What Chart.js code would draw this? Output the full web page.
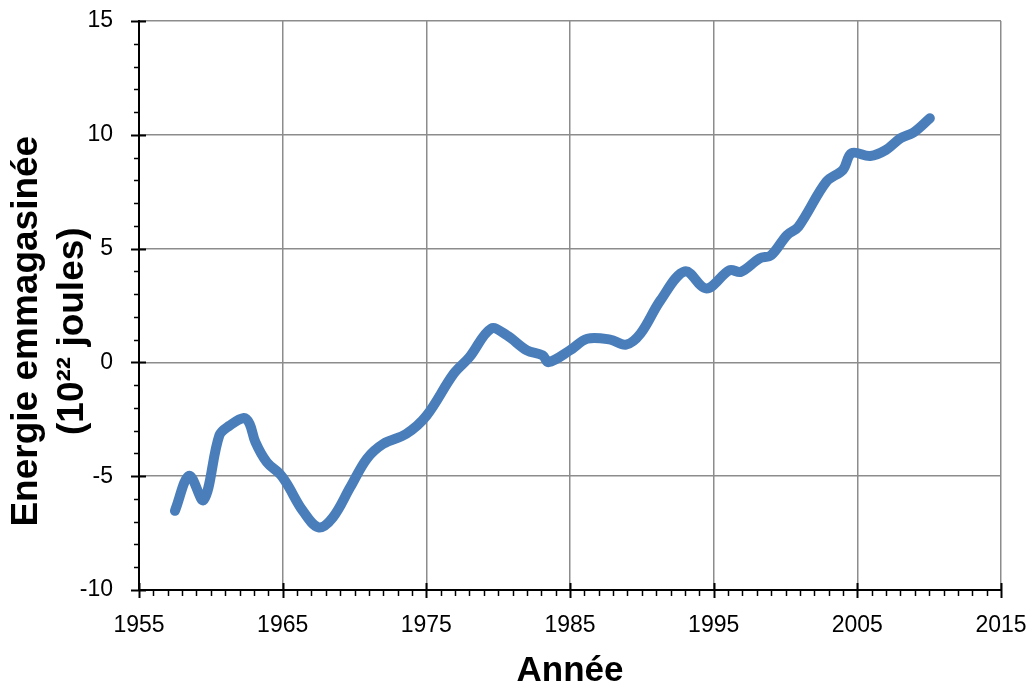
<!DOCTYPE html>
<html><head><meta charset="utf-8">
<script src="https://cdn.jsdelivr.net/npm/chart.js@4"></script>
<style>html,body{margin:0;padding:0;background:#fff}</style>
</head><body>
<canvas id="c" width="1029" height="684"></canvas>
<script>
const years = [1957.5,1958.5,1959.5,1960.6,1961.3,1962.3,1962.7,1963.1,1963.9,1964.8,1965.3,1966.4,1967.5,1968.5,1969.7,1970.85,1972.0,1973.6,1975.0,1976.9,1978.0,1979.5,1980.6,1982.0,1983.1,1983.5,1985.0,1986.2,1987.8,1988.9,1989.9,1991.3,1993.0,1994.5,1996.1,1996.9,1998.2,1999.0,2000.1,2000.9,2002.85,2004.0,2004.6,2005.9,2007.0,2008.0,2008.9,2010.05];
const energy = [-6.52,-4.98,-6.05,-3.2,-2.78,-2.44,-2.7,-3.5,-4.39,-4.9,-5.34,-6.52,-7.25,-6.81,-5.49,-4.24,-3.58,-3.14,-2.35,-0.5,0.23,1.48,1.19,0.53,0.31,0.01,0.53,1.04,1.0,0.78,1.26,2.73,4.0,3.25,4.05,3.98,4.57,4.71,5.59,5.96,7.94,8.46,9.19,9.07,9.34,9.85,10.1,10.73];
const xTickLabels = [1955,1965,1975,1985,1995,2005,2015];
const yTickLabels = [-10,-5,0,5,10,15];
const xTitle = 'Année';
const yTitle = ['Energie emmagasinée     ', '(10²² joules)     '];

const points = years.map((y,i)=>({x:y,y:energy[i]}));

const tickPlugin = {
  id:'ticks',
  afterDraw(chart){
    const {ctx, chartArea:a, scales:{x,y}} = chart;
    ctx.save();
    ctx.strokeStyle='#000';
    for(let yr=xTickLabels[0]; yr<=xTickLabels[xTickLabels.length-1]; yr++){
      const px = Math.round(x.getPixelForValue(yr))+0.5;
      const major = xTickLabels.includes(yr);
      ctx.lineWidth = major?2:1.5;
      ctx.beginPath();
      ctx.moveTo(px, major? a.bottom-7 : a.bottom);
      ctx.lineTo(px, major? a.bottom+8 : a.bottom+6);
      ctx.stroke();
    }
    for(let v=yTickLabels[0]; v<=yTickLabels[yTickLabels.length-1]; v++){
      const py = Math.round(y.getPixelForValue(v))+0.5;
      const major = yTickLabels.includes(v);
      ctx.lineWidth = major?2:1.5;
      ctx.beginPath();
      ctx.moveTo(major? a.left-8 : a.left-5, py);
      ctx.lineTo(major? a.left+7 : a.left, py);
      ctx.stroke();
    }
    ctx.restore();
  }
};

function zeroPad(s){ s.paddingLeft=0; s.paddingRight=0; s.paddingTop=0; s.paddingBottom=0; }

new Chart(document.getElementById('c'), {
  type:'line',
  data:{datasets:[{data:points, borderColor:'#4a7ebb', borderWidth:10, pointRadius:0, tension:0.35, fill:false, borderCapStyle:'round', borderJoinStyle:'round', clip:false}]},
  options:{
    responsive:false, animation:false,
    layout:{padding:{top:21, right:28, left:0, bottom:0}},
    plugins:{legend:{display:false}, tooltip:{enabled:false}},
    scales:{
      x:{type:'linear', min:1955, max:2015,
        afterBuildTicks(s){ s.ticks = xTickLabels.map(v=>({value:v})); },
        afterFit(s){ s.height = 94; zeroPad(s); },
        grid:{color:'#8c8c8c', lineWidth:1.5, drawTicks:false},
        border:{color:'#000', width:2},
        ticks:{color:'#000', font:{family:'Liberation Sans, Arial, sans-serif', size:23}, padding:22, maxRotation:0, autoSkip:false, callback:v=>String(v)},
        title:{display:true, text:xTitle, color:'#000', font:{family:'Liberation Sans, Arial, sans-serif', size:35, weight:'bold', lineHeight:0.7}, padding:{top:0,bottom:0}}
      },
      y:{type:'linear', min:-10, max:15,
        afterBuildTicks(s){ s.ticks = yTickLabels.map(v=>({value:v})); },
        afterFit(s){ s.width = 139; zeroPad(s); },
        grid:{color:'#8c8c8c', lineWidth:1.5, drawTicks:false},
        border:{color:'#000', width:2},
        ticks:{color:'#000', font:{family:'Liberation Sans, Arial, sans-serif', size:23}, padding:26, callback:v=>String(v)},
        title:{display:true, text:yTitle, color:'#000', font:{family:'Liberation Sans, Arial, sans-serif', size:37, weight:'bold', lineHeight:1.26}, padding:{top:3,bottom:0}}
      }
    }
  },
  plugins:[tickPlugin]
});
</script>
</body></html>
